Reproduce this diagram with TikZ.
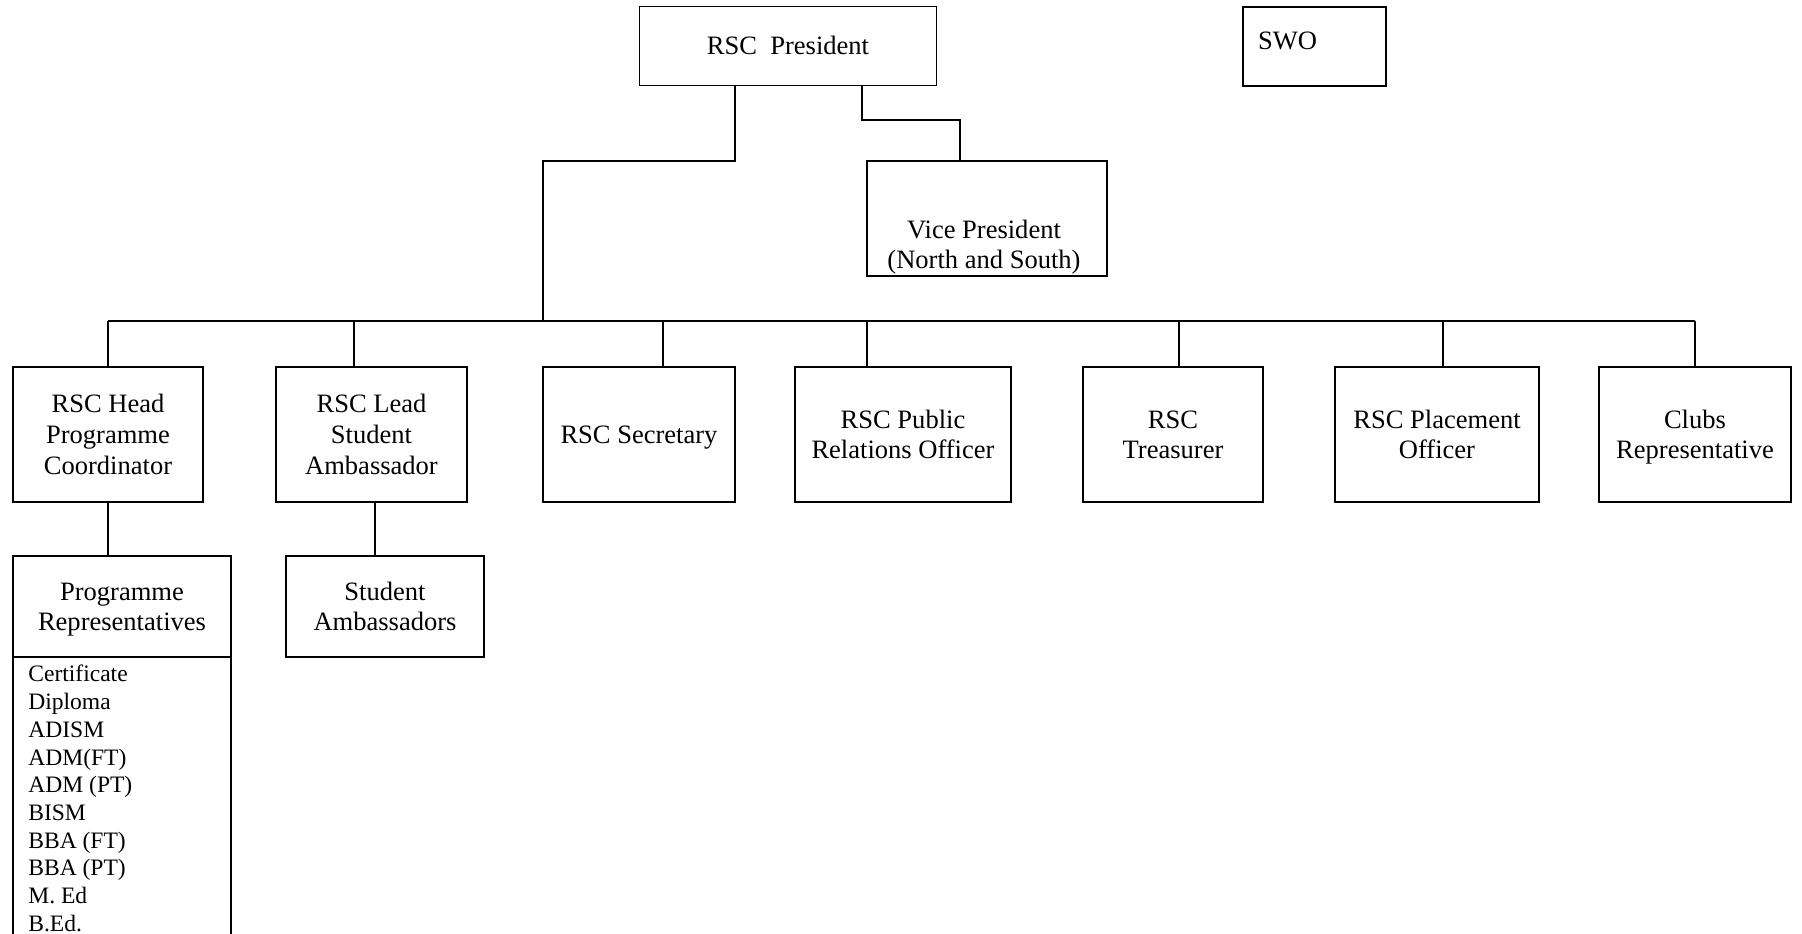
\documentclass[tikz,border=0pt]{standalone}
\usepackage{xcolor}
\usepackage{fontspec}
\setmainfont{Liberation Serif}
\usepackage{tikz}
\usetikzlibrary{positioning,calc}
\newcommand\wordstrut{\rule[-0.216em]{0pt}{1.107em}}

\begin{document}
\begin{tikzpicture}[txt/.style={black,align=center,inner sep=0pt,font=\fontsize{15.1}{17.4}\selectfont},post/.style={txt,draw,rectangle,line width=1pt,outer sep=0pt},link/.style={black,line width=1pt}]%
\path[use as bounding box,clip] (0,0) rectangle (36.04,-18.68);%
% top row
\node[post,minimum width=5.94cm,minimum height=1.58cm] (pres) at (15.76,-0.92) {\wordstrut RSC\ \ President\wordstrut};%
\node[post,align=left,text width=2.26cm,inner xsep=0.3cm,text height=0.86cm,text depth=0.72cm] (swo) at (26.29,-0.93) {SWO};%
\node[post,minimum width=4.80cm,minimum height=2.30cm] (vp) at (19.74,-4.37) {};%
\node[txt,above=0.02cm of vp.south,xshift=-0.06cm] (vp_text) {Vice President\\(North and South)};%
% second row
\node[post,minimum width=3.80cm,minimum height=2.70cm] (head) at (2.16,-8.69) {\wordstrut RSC Head\\Programme\\Coordinator\wordstrut};%
\node[post,minimum width=3.82cm,minimum height=2.70cm] (lead) at (7.43,-8.69) {\wordstrut RSC Lead\\Student\\Ambassador\wordstrut};%
\node[post,minimum width=3.84cm,minimum height=2.70cm] (sec) at (12.78,-8.69) {\wordstrut RSC Secretary\wordstrut};%
\node[post,minimum width=4.32cm,minimum height=2.70cm] (pro) at (18.06,-8.69) {\wordstrut RSC Public\\Relations Officer\wordstrut};%
\node[post,minimum width=3.60cm,minimum height=2.70cm] (treas) at (23.46,-8.69) {\wordstrut RSC\\Treasurer\wordstrut};%
\node[post,minimum width=4.08cm,minimum height=2.70cm] (place) at (28.74,-8.69) {\wordstrut RSC Placement\\Officer\wordstrut};%
\node[post,minimum width=3.84cm,minimum height=2.70cm] (clubs) at (33.90,-8.69) {\wordstrut Clubs\\Representative\wordstrut};%
% third row
\node[post,minimum width=4.36cm,minimum height=2.02cm] (prog) at (2.44,-12.13) {\wordstrut Programme\\Representatives\wordstrut};%
\node[post,minimum width=3.96cm,minimum height=2.02cm] (amb) at (7.70,-12.13) {\wordstrut Student\\Ambassadors\wordstrut};%
\node[post,minimum width=4.36cm,minimum height=6.4cm,below=0cm of prog] (prog_list) {};%
\node[txt,align=left,font=\fontsize{13.4}{15.76}\selectfont,anchor=north west] (prog_items) at ([xshift=0.30cm,yshift=-0.16cm]prog_list.north west) {Certificate\\Diploma\\ADISM\\ADM(FT)\\ADM (PT)\\BISM\\BBA (FT)\\BBA (PT)\\M. Ed\\B.Ed.};%
% lines
\coordinate (bus_w) at (2.16,-6.42);%
\coordinate (bus_e) at (33.90,-6.42);%
\coordinate (bus_m) at (10.86,-6.42);%
\coordinate (bend_l) at (10.86,-3.22);%
\coordinate (bend_r) at (19.20,-2.40);%
\draw[link] ([xshift=-1.06cm]pres.south) |- (bend_l) -- (bus_m);%
\draw[link] ([xshift=1.48cm]pres.south) |- (bend_r) -- ([xshift=-0.54cm]vp.north);%
\draw[link] (bus_w) -- (bus_e);%
\draw[link] (head.north) -- (head.north |- bus_w);%
\draw[link] ([xshift=-0.35cm]lead.north) -- ([xshift=-0.35cm]lead.north |- bus_w);%
\draw[link] ([xshift=0.48cm]sec.north) -- ([xshift=0.48cm]sec.north |- bus_w);%
\draw[link] ([xshift=-0.72cm]pro.north) -- ([xshift=-0.72cm]pro.north |- bus_w);%
\draw[link] ([xshift=0.12cm]treas.north) -- ([xshift=0.12cm]treas.north |- bus_w);%
\draw[link] ([xshift=0.12cm]place.north) -- ([xshift=0.12cm]place.north |- bus_w);%
\draw[link] (clubs.north) -- (clubs.north |- bus_w);%
\draw[link] (head.south) -- (head.south |- prog.north);%
\draw[link] ([xshift=0.07cm]lead.south) -- ([xshift=0.07cm]lead.south |- amb.north);%
\end{tikzpicture}
\end{document}
